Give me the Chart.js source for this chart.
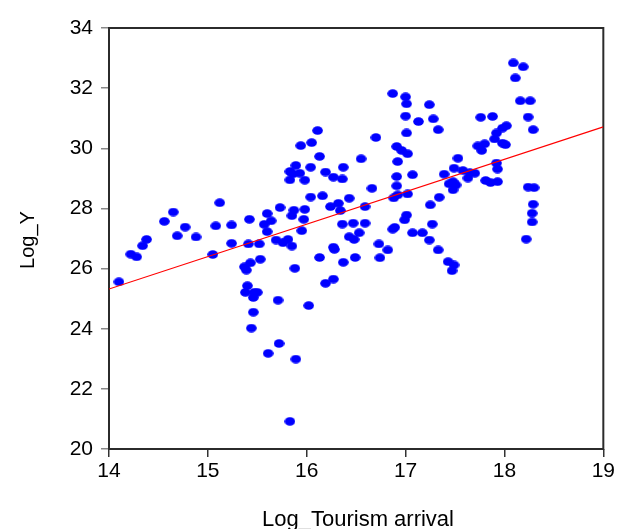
<!DOCTYPE html>
<html><head><meta charset="utf-8">
<script src="https://cdn.jsdelivr.net/npm/chart.js@4/dist/chart.umd.min.js"></script>
<style>html,body{margin:0;padding:0;background:#fff;}</style>
</head><body>
<canvas id="c" width="617" height="529"></canvas>
<script>
const logTourism = [
14.10,14.22,14.28,14.34,14.38,14.56,14.65,14.69,14.77,14.88,15.05,15.08,15.12,15.24,15.24,
16.11,15.94,16.05,16.13,15.89,15.83,15.86,15.93,16.04,15.83,15.98,16.19,16.04,16.16,16.24,
15.73,15.87,15.98,15.60,15.85,15.97,15.42,15.64,15.57,15.60,15.95,15.41,15.52,15.69,15.76,
15.81,15.85,16.13,15.53,15.43,15.37,15.39,15.88,16.19,15.40,15.38,15.47,15.50,15.46,15.71,
16.02,15.46,15.44,15.72,15.61,15.89,15.83,
16.87,17.00,17.01,17.00,17.13,16.70,17.01,16.91,16.96,17.02,16.55,16.92,16.37,16.27,16.36,
16.91,17.07,16.91,16.66,16.43,16.92,17.02,16.88,16.32,16.34,16.59,16.36,16.47,16.59,16.99,
17.01,16.87,16.89,17.07,16.43,16.48,16.53,16.73,16.82,16.28,16.27,16.37,16.49,16.74,16.27,
17.24,17.28,17.33,17.76,17.88,18.02,17.98,17.92,17.90,17.98,18.01,17.73,17.80,17.77,17.53,
17.49,17.58,17.65,17.70,17.92,17.93,17.39,17.63,17.48,17.44,17.51,17.48,17.81,17.86,17.93,
17.34,17.25,17.27,17.17,17.24,17.33,17.43,17.49,17.47,
18.09,18.19,18.11,18.16,18.26,18.24,18.29,18.24,18.30,18.29,18.28,18.28,18.22
];
const logY = [
25.56,26.48,26.39,26.76,26.97,27.57,27.88,27.09,27.38,27.05,26.47,27.42,28.19,27.45,26.84,
30.59,30.09,30.19,29.73,29.43,29.23,29.15,29.17,29.37,28.95,28.94,29.21,28.38,28.42,28.06,
28.03,27.94,27.97,27.83,27.76,27.64,27.64,27.59,27.47,27.23,27.26,26.82,26.82,26.95,26.86,
26.97,26.75,26.37,26.31,26.19,26.06,25.95,26.01,25.51,25.43,25.21,25.21,25.21,25.04,24.95,
24.77,24.55,24.02,23.51,23.18,22.99,20.92,
31.82,31.71,31.48,31.07,30.89,30.36,30.51,30.06,29.93,29.82,29.65,29.56,29.37,29.04,28.98,
29.06,29.12,28.75,28.67,28.34,28.45,28.48,28.35,28.17,27.93,28.06,27.48,27.51,27.51,27.62,
27.78,27.31,27.37,27.19,27.06,26.97,27.19,26.82,26.62,26.64,26.71,26.21,26.37,26.36,25.65,
31.45,30.98,30.62,31.03,31.06,30.75,30.67,30.51,30.31,30.17,30.12,30.08,30.15,29.93,29.67,
29.34,29.26,29.19,29.17,29.51,29.31,29.14,29.01,28.89,28.82,28.78,28.62,28.93,28.86,28.89,
28.37,28.12,27.48,27.19,26.95,26.62,26.23,26.12,25.93,
32.84,32.71,32.34,31.58,31.58,31.04,30.62,28.71,28.69,28.14,27.84,27.55,26.98
];
const fitLineX = [14, 19];
const fitLineY = [25.32, 30.71];
const xTickValues = [14, 15, 16, 17, 18, 19];
const yTickValues = [20, 22, 24, 26, 28, 30, 32, 34];
const xTitle = 'Log_Tourism arrival';
const yTitle = 'Log_Y';

const FONT = '"Liberation Sans", Arial, sans-serif';

function dotImage() {
  const c = document.createElement('canvas');
  c.width = 11; c.height = 9;
  const g = c.getContext('2d');
  g.fillStyle = '#0000ff';
  g.beginPath();
  g.ellipse(5.5, 4.5, 5.3, 4.3, 0, 0, Math.PI * 2);
  g.fill();
  return c;
}

const scatterData = logTourism.map((x, i) => ({ x: x, y: logY[i] }));
const lineData = fitLineX.map((x, i) => ({ x: x, y: fitLineY[i] }));

const framePlugin = {
  id: 'frame',
  beforeDatasetsDraw(chart) {
    const a = chart.chartArea, ctx = chart.ctx;
    ctx.save();
    ctx.strokeStyle = '#2b2b2b';
    ctx.lineWidth = 2;
    ctx.strokeRect(a.left, a.top, a.right - a.left, a.bottom - a.top);
    ctx.restore();
  },
  afterDraw(chart) {
    const ctx = chart.ctx;
    ctx.save();
    ctx.fillStyle = '#000';
    ctx.textAlign = 'center';
    ctx.textBaseline = 'middle';
    ctx.font = '22px ' + FONT;
    ctx.fillText(xTitle, 358, 520);
    ctx.font = '20px ' + FONT;
    ctx.translate(28, 240);
    ctx.rotate(-Math.PI / 2);
    ctx.fillText(yTitle, 0, 0);
    ctx.restore();
  }
};

new Chart(document.getElementById('c'), {
  data: {
    datasets: [
      {
        type: 'line',
        data: lineData,
        borderColor: '#ff0000',
        borderWidth: 1.2,
        pointRadius: 0,
        fill: false,
        order: 0
      },
      {
        type: 'scatter',
        data: scatterData,
        pointStyle: dotImage(),
        pointRadius: 5,
        order: 1
      }
    ]
  },
  options: {
    responsive: false,
    animation: false,
    devicePixelRatio: 1,
    layout: { padding: { top: 28, right: 12, left: 0, bottom: 0 } },
    plugins: { legend: { display: false }, tooltip: { enabled: false } },
    scales: {
      x: {
        type: 'linear', min: 14, max: 19,
        afterBuildTicks(s) { s.ticks = xTickValues.map(v => ({ value: v })); },
        afterFit(s) { s.height = 80; },
        grid: { drawOnChartArea: false, drawTicks: true, tickLength: 8, color: '#333', lineWidth: 1.5 },
        border: { display: false },
        ticks: { color: '#000', font: { family: FONT, size: 21 }, padding: 2, maxRotation: 0 }
      },
      y: {
        type: 'linear', min: 20, max: 34,
        afterBuildTicks(s) { s.ticks = yTickValues.map(v => ({ value: v })); },
        afterFit(s) { s.width = 109; },
        grid: { drawOnChartArea: false, drawTicks: true, tickLength: 8, color: '#888', lineWidth: 1.5 },
        border: { display: false },
        ticks: { color: '#000', font: { family: FONT, size: 21 }, padding: 8 }
      }
    }
  },
  plugins: [framePlugin]
});
</script>
</body></html>
